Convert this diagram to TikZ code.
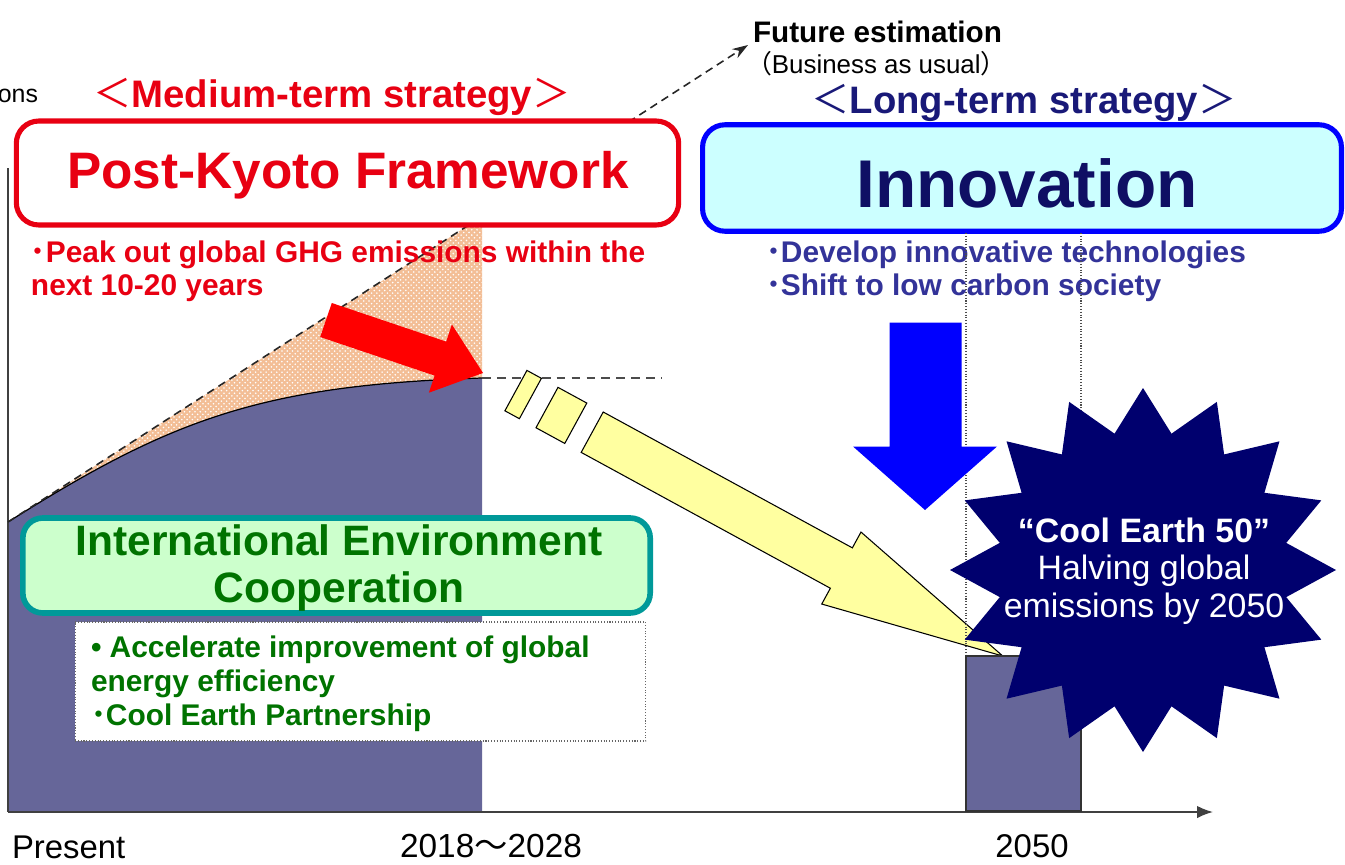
\documentclass[tikz,border=0pt]{standalone}
\usepackage{fontspec}
\setmainfont{Liberation Sans}
\newfontfamily\cjk{Noto Sans CJK JP}
\usetikzlibrary{patterns,arrows.meta}
\newcommand\fs[2]{\fontsize{\fpeval{#1*0.5669}pt}{\fpeval{#2*0.5669}pt}\selectfont}
\definecolor{redc}{RGB}{232,0,18}
\definecolor{purp}{RGB}{102,102,153}
\definecolor{hatchbg}{RGB}{243,190,150}
\definecolor{navyt}{RGB}{15,15,100}
\definecolor{navys}{RGB}{0,0,110}
\definecolor{longc}{RGB}{25,25,120}
\definecolor{devc}{RGB}{51,51,153}
\definecolor{greent}{RGB}{0,115,0}
\definecolor{greenf}{RGB}{204,255,204}
\definecolor{tealb}{RGB}{0,153,153}
\definecolor{cyanf}{RGB}{204,255,255}
\definecolor{bluec}{RGB}{0,0,255}
\definecolor{yellf}{RGB}{255,255,160}
\begin{document}
\begin{tikzpicture}[x=0.02cm,y=-0.02cm,
  every node/.style={inner sep=0pt, outer sep=0pt},
  axisline/.style={draw=black!75, line width=0.9pt},
  bigbox/.style={rounded corners=0.45cm, line width=2.9pt},
  yellpart/.style={fill=yellf, draw=black, line width=0.6pt},
  vdot/.style={draw=black!70, densely dotted, line width=0.6pt},
]
\useasboundingbox (0,0) rectangle (1345,865);

% future estimation (hatched) area
\coordinate (g0) at (8,522);
\coordinate (peak) at (482,378);
\coordinate (fe) at (748,45);
\path[fill=hatchbg] (g0) -- (482,216.5) -- (peak) .. controls (260,385) and (170,420) .. (g0) -- cycle;
\path[pattern=crosshatch dots, pattern color=white] (g0) -- (482,216.5) -- (peak) .. controls (260,385) and (170,420) .. (g0) -- cycle;
% emissions area
\fill[purp] (g0) .. controls (170,420) and (260,385) .. (peak) -- (482,812) -- (8,812) -- cycle;
\draw[black, line width=0.7pt] (g0) .. controls (170,420) and (260,385) .. (peak);

% axes
\draw[axisline] (8,168) -- (8,812);
\draw[axisline, -{Latex[length=9pt,width=7pt]}] (8,812) -- (1213,812);

% business as usual dashed arrow
\draw[black!85, dashed, dash pattern=on 4.5pt off 3pt, line width=0.9pt, -{Stealth[length=9pt,width=6pt]}] (g0) -- (fe);
\node[anchor=west, font=\bfseries\fs{29.8}{30}] (fut) at (753,32) {Future estimation};
\node[anchor=west, font=\fs{26}{28}] (bau) at (746,64) {{\cjk （}Business as usual{\cjk ）}};

% peak dashed line
\draw[black!70, dashed, dash pattern=on 5pt off 3.5pt, line width=0.8pt] (peak) -- (662,378);

% text fragment top left
\node[anchor=east, font=\fs{25}{27}] (ons) at (38,96) {ons};

% Medium-term
\node[font=\bfseries\fs{38.5}{40}, text=redc] (mid) at (332,97) {{\cjk\mdseries ＜}Medium-term strategy{\cjk\mdseries ＞}};
\node[bigbox, draw=redc, fill=white, minimum width=13.25cm, minimum height=2.08cm] (pk) at (347.5,173) {};
\node[font=\bfseries\fs{51.5}{54}, text=redc] (pkt) at (348,175) {Post-Kyoto Framework};
\node[anchor=west, align=left, font=\bfseries\fs{30}{33}, text=redc] (peakt) at (31,271)
  {{\cjk\bfseries ･}Peak out global GHG emissions within the\\next 10-20 years};

% Long-term
\node[font=\bfseries\fs{38.4}{40}, text=longc] (long) at (1024,103) {{\cjk\mdseries ＜}Long-term strategy{\cjk\mdseries ＞}};
\node[bigbox, draw=bluec, fill=cyanf, minimum width=12.78cm, minimum height=2.13cm] (inb) at (1022,178) {};
\node[font=\bfseries\fs{67.8}{70}, text=navyt] (inn) at (1027,183) {Innovation};
\node[anchor=west, align=left, font=\bfseries\fs{30}{33}, text=devc] (dev) at (766,271)
  {{\cjk\bfseries ･}Develop innovative technologies\\{\cjk\bfseries ･}Shift to low carbon society};

% red arrow
\fill[red] (331.8,303.0) -- (446.2,341.6) -- (451.9,324.5) -- (483,373) -- (428.9,392.7) -- (434.6,375.6) -- (320.2,337.0) -- cycle;

% yellow broken arrow
\begin{scope}[shift={(592.2,432.2)}, rotate=-28.6]
  \draw[yellpart] (-86.9,-23) rectangle (-70.4,23);
  \draw[yellpart] (-51.5,-23) rectangle (-18.7,23);
  \draw[yellpart] (0,-23) -- (283.8,-23) -- (283.8,-41) -- (467.7,0) -- (283.8,41) -- (283.8,23) -- (0,23) -- cycle;
\end{scope}

% dotted guide lines and 2050 bar
\draw[vdot] (966,233) -- (966,656);
\draw[vdot] (1081,233) -- (1081,656);
\draw[fill=purp, draw=black!80, line width=0.7pt] (966,656) rectangle (1081,811);

% blue arrow
\fill[bluec] (889.5,322.5) -- (961.5,322.5) -- (961.5,446.5) -- (997,446.5) -- (925,510) -- (853,446.5) -- (889.5,446.5) -- cycle;

% starburst
\fill[navys] (1143,388) \foreach \i in {1,...,31} {
   -- ({1143+(mod(\i,2)==0 ? 193 : 146)*cos(90-\i*11.25)}, {570-(mod(\i,2)==0 ? 182 : 139)*sin(90-\i*11.25)})
 } -- cycle;
\node[align=center, text=white, font=\fs{34}{37.5}] (ce) at (1144,571)
  {\textbf{“Cool Earth 50”}\\Halving global\\emissions by 2050};

% International environment cooperation
\node[rounded corners=0.4cm, line width=3.2pt, draw=tealb, fill=greenf, minimum width=12.55cm, minimum height=1.9cm] (ieb) at (336.5,565.5) {};
\node[align=center, font=\bfseries\fs{42.7}{47}, text=greent] (iet) at (339,568)
  {International Environment\\Cooperation};
\node[draw=black!60, densely dotted, line width=0.6pt, fill=white, minimum width=11.42cm, minimum height=2.38cm] (dbx) at (360.5,681.5) {};
\node[anchor=west, align=left, font=\bfseries\fs{30}{34}, text=greent] (dbt) at (91,684)
  {• Accelerate improvement of global\\energy efficiency\\{\cjk\bfseries ･}Cool Earth Partnership};

% axis labels
\node[anchor=west, font=\fs{33}{34}] (pres) at (12,847) {Present};
\node[font=\fs{33.5}{34}] (y2018) at (491,846) {2018{\cjk ～}2028};
\node[font=\fs{33}{34}] (y2050) at (1032,846) {2050};
\end{tikzpicture}
\end{document}
